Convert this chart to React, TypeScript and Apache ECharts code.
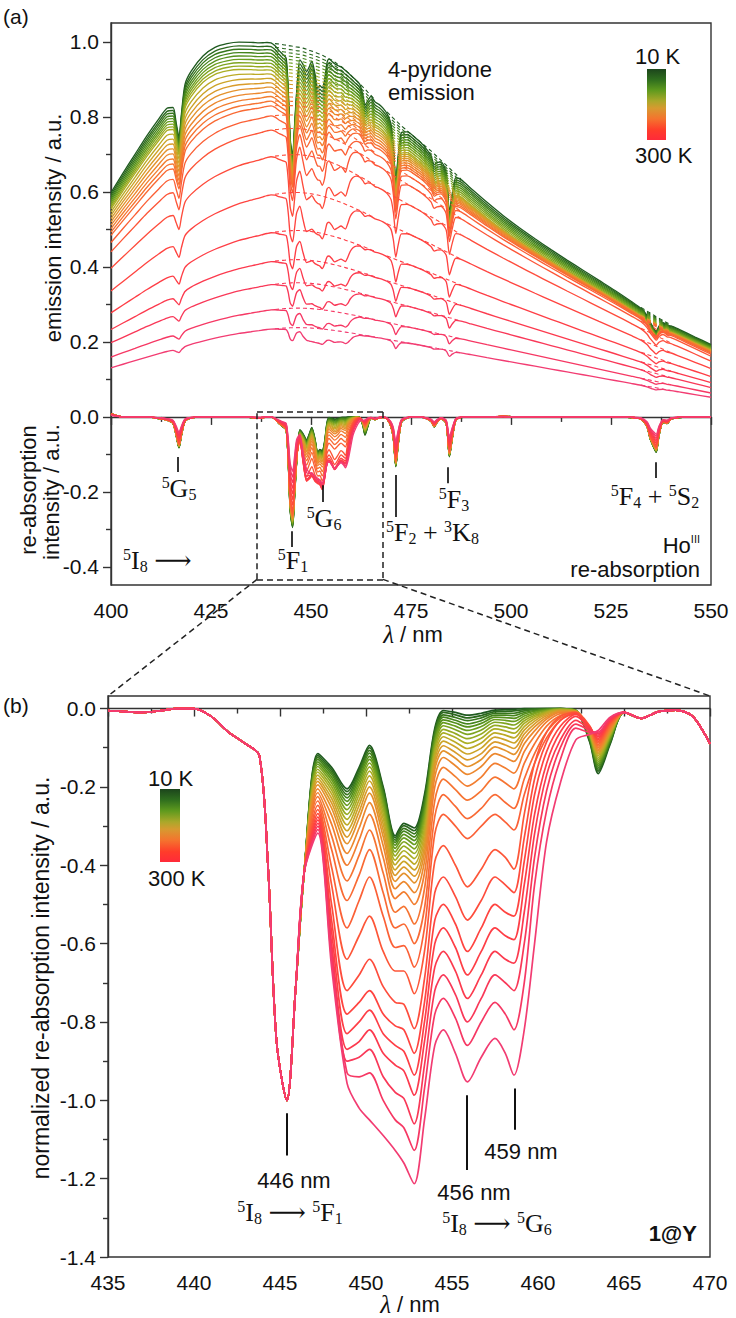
import React, { useEffect, useRef } from "react";
import * as echarts from "echarts";

// ---------------- DATA ----------------
const temperaturesK = [10, 20, 30, 40, 50, 60, 70, 80, 90, 100, 110, 120, 130, 140, 150, 160, 170, 180, 200, 220, 240, 250, 260, 270, 280, 300];

// wavelengths (nm)
const aLeftWl = [400, 403, 406, 409, 412, 414, 415.5, 416.3, 417.0, 417.6, 418.5, 420, 423, 426, 429, 432];
const bLeftWl = [435, 436, 437, 438, 439, 440, 441, 442, 443, 443.8, 444.3, 444.8, 445.4, 445.9, 446.4];
const bMidWl = [447.2, 448.0, 448.9, 449.6, 450.2, 451.0, 451.7, 452.2, 452.8, 453.4, 454.0, 454.5, 455.2, 455.9, 456.7, 457.5, 458.1, 458.6, 459.2, 459.8, 460.5, 461.3, 462.2, 463.0, 463.5, 464.2];
const bTailWl = [465, 466, 467, 468, 469, 470];
const aRightWl = [470.6, 471.2, 471.8, 472.6, 474, 476, 478, 480, 480.8, 481.5, 482.5, 483.8, 484.6, 485.3, 486.2, 487.5, 490, 494, 498, 502, 506, 510, 514, 518, 522, 526, 530, 532.5, 534, 534.8, 535.6, 536.3, 537, 538, 539, 540, 542, 546, 550];

// emission maximum of each curve (10 K ... 300 K)
const peakIntensity = [1.0, 0.99, 0.981, 0.972, 0.963, 0.954, 0.945, 0.936, 0.927, 0.917, 0.906, 0.895, 0.884, 0.872, 0.86, 0.848, 0.836, 0.81, 0.773, 0.702, 0.6, 0.498, 0.42, 0.358, 0.29, 0.238];
// share of the warm band shape in each curve
const shapeMix = [0, 0, 0, 0, 0, 0, 0, 0, 0, 0.05, 0.1, 0.15, 0.2, 0.25, 0.3, 0.35, 0.4, 0.5, 0.6, 0.7, 0.8, 0.85, 0.9, 0.95, 1.0, 1.0];
// depth of the 446 nm re-absorption of each curve (panel a)
const absorptionScale = [0.295, 0.293, 0.291, 0.289, 0.287, 0.285, 0.283, 0.281, 0.279, 0.277, 0.275, 0.273, 0.271, 0.269, 0.267, 0.265, 0.262, 0.258, 0.25, 0.235, 0.22, 0.205, 0.19, 0.175, 0.16, 0.145];

// normalised emission band (10 K) on aLeft+bLeft+bMid+bTail+aRight wavelengths
const envelopeCold = [
  0.598, 0.65, 0.70, 0.75, 0.80, 0.835, 0.855, 0.865, 0.875, 0.885, 0.905, 0.925, 0.962, 0.985, 0.995, 0.999,
  1.0, 1.0, 1.0, 0.999, 0.998, 0.997, 0.995, 0.994, 0.992, 0.991, 0.99, 0.989, 0.988, 0.987, 0.986,
  0.985, 0.983, 0.98, 0.977, 0.975, 0.972, 0.969, 0.967, 0.964, 0.961, 0.958, 0.955, 0.951, 0.946, 0.94, 0.934, 0.929, 0.924, 0.918, 0.912, 0.905, 0.897, 0.888, 0.879, 0.874, 0.866,
  0.857, 0.846, 0.835, 0.824, 0.813, 0.802,
  0.796, 0.79, 0.784, 0.776, 0.763, 0.745, 0.727, 0.709, 0.701, 0.694, 0.684, 0.671, 0.663, 0.656, 0.647, 0.634, 0.609, 0.572, 0.537, 0.505, 0.475, 0.446, 0.418, 0.391, 0.364, 0.337, 0.309, 0.292, 0.282, 0.277, 0.272, 0.267, 0.263, 0.257, 0.251, 0.245, 0.234, 0.213, 0.193,
];
// normalised emission band (300 K) on the same wavelengths
const envelopeWarm = [
  0.55, 0.59, 0.63, 0.67, 0.71, 0.738, 0.758, 0.768, 0.777, 0.785, 0.796, 0.815, 0.85, 0.882, 0.91, 0.935,
  0.955, 0.962, 0.968, 0.974, 0.979, 0.984, 0.988, 0.991, 0.994, 0.996, 0.997, 0.998, 0.999, 1.0, 1.0,
  1.0, 0.999, 0.998, 0.997, 0.995, 0.992, 0.99, 0.988, 0.985, 0.982, 0.979, 0.976, 0.972, 0.968, 0.963, 0.958, 0.954, 0.95, 0.946, 0.942, 0.937, 0.931, 0.924, 0.918, 0.914, 0.909,
  0.902, 0.894, 0.886, 0.878, 0.87, 0.862,
  0.857, 0.852, 0.847, 0.841, 0.83, 0.814, 0.798, 0.782, 0.775, 0.769, 0.761, 0.75, 0.743, 0.737, 0.729, 0.718, 0.697, 0.664, 0.632, 0.6, 0.568, 0.536, 0.504, 0.472, 0.44, 0.408, 0.376, 0.356, 0.344, 0.338, 0.332, 0.326, 0.32, 0.312, 0.304, 0.296, 0.28, 0.25, 0.22,
];

// normalised re-absorption outside 435-470 nm, lower part of panel (a)
const outerAbsLeft = [0.03, 0.0, 0.0, 0.0, -0.015, -0.03, -0.06, -0.17, -0.28, -0.17, -0.04, -0.01, 0.0, 0.0, 0.0, 0.0];
const outerAbsRight = [-0.2, -0.45, -0.25, -0.05, -0.01, 0, -0.005, -0.04, -0.09, -0.05, -0.015, -0.06, -0.36, -0.2, -0.03, -0.005, 0, 0, 0.005, 0, 0, 0, 0, 0, 0, 0, -0.005, -0.02, -0.09, -0.2, -0.27, -0.32, -0.17, -0.05, -0.06, -0.02, -0.005, 0, 0];
// relative dips seen in the emission curves outside 435-470 nm
const outerEmisLeft = [0.0, 0.0, 0.0, 0.0, -0.02, -0.05, -0.12, -0.32, -0.5, -0.3, -0.07, -0.015, 0.0, 0.0, 0.0, 0.0];
const outerEmisRight = [-0.32, -0.7, -0.38, -0.08, -0.015, 0, -0.008, -0.06, -0.14, -0.08, -0.02, -0.1, -0.6, -0.32, -0.05, -0.008, 0, 0, 0, 0, 0, 0, 0, 0, 0, 0, -0.008, -0.03, -0.14, -0.3, -0.42, -0.5, -0.27, -0.08, -0.09, -0.03, -0.008, 0, 0];

// normalised re-absorption, panel (b)
const bLeftAbs = [-0.005, -0.008, -0.01, -0.006, 0.0, 0.0, -0.02, -0.06, -0.09, -0.12, -0.4, -0.85, -1.0, -0.72, -0.42];
const bTailAbs = [-0.01, -0.025, -0.008, -0.004, -0.02, -0.09];
// one row per bMidWl wavelength, one value per curve (10 K ... 300 K)
const bMidAbs = [
  [-0.115, -0.12, -0.125, -0.13, -0.136, -0.142, -0.148, -0.155, -0.162, -0.17, -0.178, -0.186, -0.195, -0.205, -0.215, -0.225, -0.236, -0.247, -0.258, -0.268, -0.277, -0.285, -0.293, -0.301, -0.309, -0.318],
  [-0.15, -0.156, -0.162, -0.168, -0.175, -0.182, -0.19, -0.199, -0.208, -0.218, -0.229, -0.241, -0.254, -0.272, -0.295, -0.325, -0.36, -0.405, -0.45, -0.5, -0.54, -0.57, -0.6, -0.62, -0.64, -0.66],
  [-0.205, -0.212, -0.22, -0.228, -0.237, -0.247, -0.258, -0.27, -0.283, -0.297, -0.312, -0.328, -0.345, -0.37, -0.4, -0.44, -0.49, -0.56, -0.64, -0.72, -0.78, -0.83, -0.87, -0.9, -0.93, -0.957],
  [-0.15, -0.156, -0.163, -0.17, -0.178, -0.187, -0.197, -0.208, -0.22, -0.233, -0.247, -0.263, -0.28, -0.305, -0.335, -0.375, -0.425, -0.49, -0.58, -0.68, -0.75, -0.8, -0.85, -0.89, -0.94, -1.02],
  [-0.094, -0.1, -0.107, -0.114, -0.122, -0.13, -0.139, -0.149, -0.16, -0.172, -0.185, -0.2, -0.216, -0.24, -0.27, -0.31, -0.36, -0.43, -0.53, -0.64, -0.72, -0.77, -0.82, -0.87, -0.93, -1.05],
  [-0.2, -0.205, -0.211, -0.218, -0.226, -0.235, -0.245, -0.256, -0.268, -0.281, -0.295, -0.31, -0.327, -0.35, -0.38, -0.42, -0.47, -0.53, -0.62, -0.71, -0.78, -0.83, -0.88, -0.94, -1.0, -1.09],
  [-0.325, -0.33, -0.336, -0.342, -0.349, -0.357, -0.366, -0.376, -0.387, -0.399, -0.412, -0.426, -0.441, -0.46, -0.485, -0.52, -0.56, -0.61, -0.67, -0.75, -0.81, -0.86, -0.91, -0.98, -1.05, -1.128],
  [-0.293, -0.299, -0.306, -0.313, -0.321, -0.33, -0.34, -0.351, -0.363, -0.376, -0.39, -0.405, -0.421, -0.442, -0.468, -0.505, -0.55, -0.605, -0.67, -0.755, -0.82, -0.875, -0.925, -0.995, -1.07, -1.16],
  [-0.305, -0.312, -0.32, -0.328, -0.337, -0.347, -0.358, -0.37, -0.383, -0.397, -0.412, -0.428, -0.445, -0.47, -0.5, -0.55, -0.6, -0.66, -0.728, -0.817, -0.88, -0.936, -0.987, -1.06, -1.128, -1.213],
  [-0.22, -0.228, -0.237, -0.246, -0.256, -0.267, -0.279, -0.292, -0.306, -0.32, -0.335, -0.351, -0.368, -0.39, -0.42, -0.46, -0.51, -0.56, -0.62, -0.69, -0.75, -0.8, -0.85, -0.91, -0.97, -1.05],
  [-0.05, -0.056, -0.062, -0.069, -0.076, -0.084, -0.092, -0.101, -0.11, -0.12, -0.131, -0.143, -0.156, -0.175, -0.2, -0.235, -0.275, -0.32, -0.39, -0.47, -0.54, -0.6, -0.66, -0.72, -0.78, -0.86],
  [-0.005, -0.01, -0.016, -0.022, -0.029, -0.036, -0.044, -0.053, -0.062, -0.072, -0.083, -0.095, -0.108, -0.125, -0.15, -0.18, -0.22, -0.27, -0.35, -0.43, -0.5, -0.56, -0.62, -0.68, -0.74, -0.82],
  [-0.01, -0.016, -0.023, -0.03, -0.037, -0.045, -0.054, -0.064, -0.074, -0.086, -0.098, -0.112, -0.127, -0.146, -0.174, -0.207, -0.25, -0.3, -0.4, -0.48, -0.55, -0.61, -0.67, -0.73, -0.79, -0.88],
  [-0.017, -0.024, -0.031, -0.039, -0.047, -0.056, -0.066, -0.077, -0.089, -0.102, -0.116, -0.131, -0.148, -0.168, -0.198, -0.234, -0.281, -0.332, -0.455, -0.54, -0.62, -0.68, -0.74, -0.8, -0.86, -0.953],
  [-0.012, -0.018, -0.024, -0.031, -0.038, -0.046, -0.055, -0.065, -0.076, -0.088, -0.101, -0.115, -0.13, -0.148, -0.175, -0.21, -0.255, -0.3, -0.41, -0.49, -0.56, -0.62, -0.68, -0.74, -0.8, -0.89],
  [-0.004, -0.008, -0.012, -0.017, -0.022, -0.028, -0.035, -0.043, -0.052, -0.062, -0.073, -0.085, -0.098, -0.115, -0.14, -0.175, -0.22, -0.27, -0.36, -0.43, -0.5, -0.56, -0.62, -0.68, -0.75, -0.842],
  [-0.003, -0.007, -0.012, -0.017, -0.023, -0.03, -0.038, -0.047, -0.057, -0.068, -0.08, -0.093, -0.107, -0.125, -0.152, -0.19, -0.24, -0.29, -0.38, -0.45, -0.52, -0.58, -0.64, -0.7, -0.78, -0.88],
  [-0.002, -0.006, -0.012, -0.018, -0.025, -0.033, -0.042, -0.052, -0.063, -0.075, -0.088, -0.102, -0.117, -0.135, -0.165, -0.205, -0.255, -0.31, -0.41, -0.47, -0.53, -0.59, -0.65, -0.72, -0.82, -0.936],
  [0, -0.003, -0.006, -0.01, -0.014, -0.019, -0.025, -0.031, -0.038, -0.046, -0.055, -0.065, -0.076, -0.09, -0.11, -0.14, -0.18, -0.22, -0.27, -0.33, -0.39, -0.45, -0.52, -0.6, -0.7, -0.82],
  [0, -0.001, -0.003, -0.005, -0.007, -0.01, -0.013, -0.017, -0.021, -0.026, -0.032, -0.039, -0.047, -0.057, -0.07, -0.09, -0.115, -0.14, -0.14, -0.18, -0.22, -0.27, -0.32, -0.38, -0.45, -0.6],
  [0, 0, -0.001, -0.002, -0.003, -0.004, -0.005, -0.007, -0.009, -0.011, -0.014, -0.018, -0.022, -0.027, -0.034, -0.045, -0.06, -0.075, -0.06, -0.085, -0.11, -0.14, -0.17, -0.21, -0.26, -0.34],
  [0, 0, 0, 0, -0.001, -0.001, -0.002, -0.002, -0.003, -0.004, -0.005, -0.006, -0.008, -0.01, -0.013, -0.018, -0.024, -0.03, -0.02, -0.03, -0.045, -0.06, -0.08, -0.1, -0.13, -0.19],
  [-0.005, -0.005, -0.005, -0.005, -0.005, -0.005, -0.006, -0.006, -0.006, -0.007, -0.007, -0.008, -0.008, -0.009, -0.01, -0.01, -0.012, -0.013, -0.01, -0.012, -0.015, -0.02, -0.03, -0.04, -0.05, -0.08],
  [-0.085, -0.082, -0.079, -0.076, -0.073, -0.07, -0.068, -0.066, -0.064, -0.062, -0.06, -0.058, -0.056, -0.054, -0.052, -0.05, -0.048, -0.046, -0.044, -0.046, -0.048, -0.05, -0.053, -0.056, -0.06, -0.066],
  [-0.166, -0.16, -0.155, -0.15, -0.145, -0.14, -0.135, -0.13, -0.125, -0.12, -0.116, -0.112, -0.108, -0.104, -0.1, -0.096, -0.092, -0.088, -0.084, -0.08, -0.076, -0.072, -0.068, -0.064, -0.06, -0.056],
  [-0.09, -0.087, -0.084, -0.081, -0.078, -0.075, -0.072, -0.069, -0.066, -0.063, -0.06, -0.057, -0.054, -0.051, -0.048, -0.045, -0.042, -0.039, -0.036, -0.034, -0.032, -0.03, -0.028, -0.026, -0.024, -0.022],
];

// tick values
const aYLabelTicks = [-0.4, -0.2, 0, 0.2, 0.4, 0.6, 0.8, 1.0];
const aYMinorTicks = [-0.3, -0.1, 0.1, 0.3, 0.5, 0.7, 0.9];
const bYLabelTicks = [-1.4, -1.2, -1.0, -0.8, -0.6, -0.4, -0.2, 0];
const bYMinorTicks = [-1.3, -1.1, -0.9, -0.7, -0.5, -0.3, -0.1];

// ---------------- STYLE ----------------
const curveColors = ["#1f5a1f", "#2b681d", "#37761c", "#45841c", "#55901c", "#689c1e", "#7ea420", "#95aa22", "#aaae24", "#bcaa26", "#cca428", "#d99b2a", "#e4922c", "#ec882e", "#f27e30", "#f67432", "#f96a34", "#fb6036", "#fd5638", "#fe4c3c", "#ff4440", "#fe3e46", "#fc3a4e", "#f93858", "#f63864", "#f23c72"];
const AXIS = "#333";
const SANS = "Liberation Sans, Arial, sans-serif";
const SERIF = "Liberation Serif, DejaVu Serif, serif";

const richSerif = {
  m: { fontFamily: SERIF, fontSize: 26, lineHeight: 28, fill: "#111" },
  u: { fontFamily: SERIF, fontSize: 16, lineHeight: 14, fill: "#111", verticalAlign: "top" },
  d: { fontFamily: SERIF, fontSize: 16, lineHeight: 14, fill: "#111", verticalAlign: "bottom" },
};

function stxt(id: string, x: number, y: number, text: string, align = "center") {
  return { type: "text", id, x, y, z: 50, style: { text, rich: richSerif, textAlign: align, textVerticalAlign: "middle", align, verticalAlign: "middle" } };
}
function txt(id: string, x: number, y: number, text: string, opts: any = {}) {
  const align = opts.align || "left";
  return {
    type: "text", id, x, y, z: 50, rotation: opts.rotation || 0,
    style: {
      text, fill: "#111", fontFamily: SANS, fontSize: opts.size || 21, fontWeight: opts.weight || "normal",
      textAlign: align, align, textVerticalAlign: "middle", verticalAlign: "middle", rich: opts.rich,
    },
  };
}

export default function App() {
  const ref = useRef<HTMLDivElement>(null);
  useEffect(() => {
    document.body.style.margin = "0";
    if (!ref.current) return;
    const chart = echarts.init(ref.current, undefined, { renderer: "svg" });

    const aWl = [...aLeftWl, ...bLeftWl, ...bMidWl, ...bTailWl, ...aRightWl];
    const bWl = [...bLeftWl, ...bMidWl, ...bTailWl];
    const bCurve = (i: number) => [...bLeftAbs, ...bMidAbs.map((r) => r[i]), ...bTailAbs];
    const aNorm = (i: number) => [...outerAbsLeft, ...bCurve(i), ...outerAbsRight];
    const aEmisNorm = (i: number) => [...outerEmisLeft, ...bCurve(i), ...outerEmisRight];
    const dashRanges = [[441, 466], [469, 488], [532, 541]];

    const series: any[] = [];
    const n = temperaturesK.length;
    for (let i = 0; i < n; i++) {
      const norm = aNorm(i);
      const enorm = aEmisNorm(i);
      const w = shapeMix[i];
      const env = aWl.map((x, j) => peakIntensity[i] * ((1 - w) * envelopeCold[j] + w * envelopeWarm[j]));
      const reab = norm.map((v) => absorptionScale[i] * v);
      const emis = env.map((e, j) => e * (1 + absorptionScale[i] * enorm[j]));
      const col = curveColors[i];
      series.push({
        type: "line", name: temperaturesK[i] + " K emission", xAxisIndex: 0, yAxisIndex: 0, showSymbol: false, smooth: 0.25,
        data: aWl.map((x, j) => [x, emis[j]]), lineStyle: { color: col, width: 1.35 }, silent: true,
      });
      dashRanges.forEach((rg, k) => {
        series.push({
          type: "line", name: temperaturesK[i] + " K baseline " + k, xAxisIndex: 0, yAxisIndex: 0, showSymbol: false, smooth: 0.25,
          data: aWl.map((x, j) => [x, env[j]]).filter((p) => p[0] >= rg[0] && p[0] <= rg[1]),
          lineStyle: { color: col, width: 1.1, type: [4, 3] }, silent: true,
        });
      });
      series.push({
        type: "line", name: temperaturesK[i] + " K re-absorption", xAxisIndex: 0, yAxisIndex: 0, showSymbol: false, smooth: 0.25,
        data: aWl.map((x, j) => [x, reab[j]]), lineStyle: { color: col, width: 1.35 }, silent: true,
      });
    }
    for (let i = 0; i < n; i++) {
      const b = bCurve(i);
      series.push({
        type: "line", name: temperaturesK[i] + " K normalized", xAxisIndex: 1, yAxisIndex: 1, showSymbol: false, smooth: 0.3,
        data: bWl.map((x, j) => [x, b[j]]), lineStyle: { color: curveColors[i], width: 1.7 }, silent: true,
      });
    }
    const mk = (x: number, y1: number, y2: number) => [{ coord: [x, y1] }, { coord: [x, y2] }];
    series.push({
      type: "line", name: "markers a", xAxisIndex: 0, yAxisIndex: 0, data: [], silent: true,
      markLine: {
        silent: true, symbol: ["none", "none"], label: { show: false }, animation: false,
        lineStyle: { color: "#111", width: 1.7, type: "solid" },
        data: [mk(416.8, -0.107, -0.147), mk(445.25, -0.305, -0.347), mk(452.9, -0.182, -0.227), mk(471.25, -0.155, -0.267), mk(484.3, -0.134, -0.177), mk(536.2, -0.121, -0.163)],
      },
    });
    series.push({
      type: "line", name: "zoom box", xAxisIndex: 0, yAxisIndex: 0, data: [], silent: true,
      markLine: {
        silent: true, symbol: ["none", "none"], label: { show: false }, animation: false,
        lineStyle: { color: "#222", width: 1.5, type: [6, 4] },
        data: [
          [{ coord: [436.5, 0.013] }, { coord: [468, 0.013] }],
          [{ coord: [468, 0.013] }, { coord: [468, -0.433] }],
          [{ coord: [468, -0.433] }, { coord: [436.5, -0.433] }],
          [{ coord: [436.5, -0.433] }, { coord: [436.5, 0.013] }],
        ],
      },
    });
    series.push({
      type: "line", name: "markers b", xAxisIndex: 1, yAxisIndex: 1, data: [], silent: true,
      markLine: {
        silent: true, symbol: ["none", "none"], label: { show: false }, animation: false,
        lineStyle: { color: "#111", width: 2, type: "solid" },
        data: [mk(445.4, -1.033, -1.141), mk(455.85, -0.987, -1.178), mk(458.62, -0.97, -1.075)],
      },
    });

    const axLine = { show: true, lineStyle: { color: AXIS, width: 1.4 } };
    const lbl = { color: "#111", fontFamily: SANS, fontSize: 21 };
    const xAx = (grid: number, min: number, max: number, interval: number) => ({
      type: "value", gridIndex: grid, min, max, interval,
      axisLine: axLine, splitLine: { show: false },
      axisTick: { show: true, length: 8, lineStyle: { color: AXIS, width: 1.4 } },
      minorTick: { show: true, splitNumber: 2, length: 5, lineStyle: { color: AXIS, width: 1.4 } },
      axisLabel: { ...lbl, margin: 15 },
    });
    const yMajor = (grid: number, min: number, max: number, ticks: number[]) => ({
      type: "value", gridIndex: grid, min, max, position: "left",
      axisLine: axLine, splitLine: { show: false },
      axisTick: { show: true, length: 8, customValues: ticks, lineStyle: { color: AXIS, width: 1.4 } },
      axisLabel: { ...lbl, margin: 12, customValues: ticks, formatter: (v: number) => v.toFixed(1) },
    });
    const yMinor = (grid: number, min: number, max: number, ticks: number[]) => ({
      type: "value", gridIndex: grid, min, max, position: "left",
      axisLine: { show: false }, splitLine: { show: false },
      axisTick: { show: true, length: 5, customValues: ticks, lineStyle: { color: AXIS, width: 1.4 } },
      axisLabel: { show: false },
    });

    const colorbar = (id: string, x: number, y: number, w: number, h: number) => ({
      type: "rect", id, z: 40, shape: { x, y, width: w, height: h },
      style: {
        fill: {
          type: "linear", x: 0, y: 0, x2: 0, y2: 1,
          colorStops: [
            { offset: 0, color: "#1c451c" }, { offset: 0.15, color: "#2f6e1e" }, { offset: 0.3, color: "#5f9a1e" },
            { offset: 0.45, color: "#aaa82a" }, { offset: 0.55, color: "#d69a30" }, { offset: 0.7, color: "#f4742e" },
            { offset: 0.86, color: "#ff3c2a" }, { offset: 1, color: "#ff2a3a" },
          ],
        },
      },
    });

    const lamRich = { l: { fontFamily: SERIF, fontStyle: "italic", fontSize: 25, fill: "#111" }, n: { fontFamily: SANS, fontSize: 22, fill: "#111" } };
    const graphic: any[] = [
      txt("ta", 3, 16, "(a)"),
      txt("tb", 3, 705, "(b)"),
      txt("yl1", 53, 228, "emission intensity / a.u.", { align: "center", rotation: Math.PI / 2, size: 22 }),
      txt("yl2", 28, 490, "re-absorption", { align: "center", rotation: Math.PI / 2, size: 22 }),
      txt("yl3", 51, 492, "intensity / a.u.", { align: "center", rotation: Math.PI / 2, size: 22 }),
      txt("yl4", 41, 978, "normalized re-absorption intensity / a.u.", { align: "center", rotation: Math.PI / 2, size: 23 }),
      txt("py1", 388, 69, "4-pyridone", { size: 22 }),
      txt("py2", 388, 92, "emission", { size: 22 }),
      txt("cb1", 635, 56, "10 K", { size: 22 }),
      txt("cb2", 635, 155, "300 K", { size: 22 }),
      colorbar("cbr1", 647, 69, 19, 71),
      txt("cb3", 148, 778, "10 K", { size: 22 }),
      txt("cb4", 148, 878, "300 K", { size: 22 }),
      colorbar("cbr2", 160, 789, 20, 73),
      stxt("g5", 179, 488, "{u|5}{m|G}{d|5}"),
      stxt("i8", 123, 560, "{u|5}{m|I}{d|8}{m| ⟶}", "left"),
      stxt("f1", 293, 560, "{u|5}{m|F}{d|1}"),
      stxt("g6", 324, 518, "{u|5}{m|G}{d|6}"),
      stxt("f2", 386, 532, "{u|5}{m|F}{d|2}{m| + }{u|3}{m|K}{d|8}", "left"),
      stxt("f3", 454, 499, "{u|5}{m|F}{d|3}"),
      stxt("f4", 655, 496, "{u|5}{m|F}{d|4}{m| + }{u|5}{m|S}{d|2}"),
      txt("ho", 700, 545, "{h|Ho}{s|III}", {
        align: "right",
        rich: { h: { fontFamily: SANS, fontSize: 22, lineHeight: 24, fill: "#111" }, s: { fontFamily: SANS, fontSize: 11, lineHeight: 11, fill: "#111", verticalAlign: "top" } },
      }),
      txt("reab", 700, 569, "re-absorption", { align: "right", size: 22 }),
      txt("xa", 413, 634, "{l|λ}{n| / nm}", { align: "center", rich: lamRich }),
      txt("xb", 410, 1304, "{l|λ}{n| / nm}", { align: "center", rich: lamRich }),
      txt("n446", 294, 1180, "446 nm", { align: "center", size: 22 }),
      stxt("t446", 290, 1212, "{u|5}{m|I}{d|8}{m| ⟶ }{u|5}{m|F}{d|1}"),
      txt("n456", 474, 1192, "456 nm", { align: "center", size: 22 }),
      stxt("t456", 497, 1223, "{u|5}{m|I}{d|8}{m| ⟶ }{u|5}{m|G}{d|6}"),
      txt("n459", 521, 1151, "459 nm", { align: "center", size: 22 }),
      txt("y1", 697, 1233, "1@Y", { align: "right", weight: "bold", size: 22 }),
    ];

    const option: any = {
      animation: false,
      backgroundColor: "#ffffff",
      grid: [
        { left: 111, top: 23, width: 600, height: 562, show: true, borderColor: AXIS, borderWidth: 1.4, backgroundColor: "transparent" },
        { left: 108, top: 696, width: 602, height: 561, show: true, borderColor: AXIS, borderWidth: 1.4, backgroundColor: "transparent" },
      ],
      xAxis: [xAx(0, 400, 550, 25), xAx(1, 435, 470, 5)],
      yAxis: [
        yMajor(0, -0.448, 1.05, aYLabelTicks),
        yMajor(1, -1.4, 0.032, bYLabelTicks),
        yMinor(0, -0.448, 1.05, aYMinorTicks),
        yMinor(1, -1.4, 0.032, bYMinorTicks),
      ],
      series,
      graphic,
    };
    chart.setOption(option);

    const p1 = chart.convertToPixel({ gridIndex: 0 }, [436.5, -0.433]) as number[];
    const p2 = chart.convertToPixel({ gridIndex: 0 }, [468, -0.433]) as number[];
    const q1 = chart.convertToPixel({ gridIndex: 1 }, [435, 0.032]) as number[];
    const q2 = chart.convertToPixel({ gridIndex: 1 }, [470, 0.032]) as number[];
    const dash = { stroke: "#222", lineWidth: 1.5, lineDash: [6, 4] };
    chart.setOption({
      graphic: [
        { type: "line", id: "zl1", z: 45, shape: { x1: p1[0], y1: p1[1], x2: q1[0], y2: q1[1] }, style: dash },
        { type: "line", id: "zl2", z: 45, shape: { x1: p2[0], y1: p2[1], x2: q2[0], y2: q2[1] }, style: dash },
      ],
    });

    return () => chart.dispose();
  }, []);
  return <div ref={ref} style={{ width: 736, height: 1318 }} />;
}
